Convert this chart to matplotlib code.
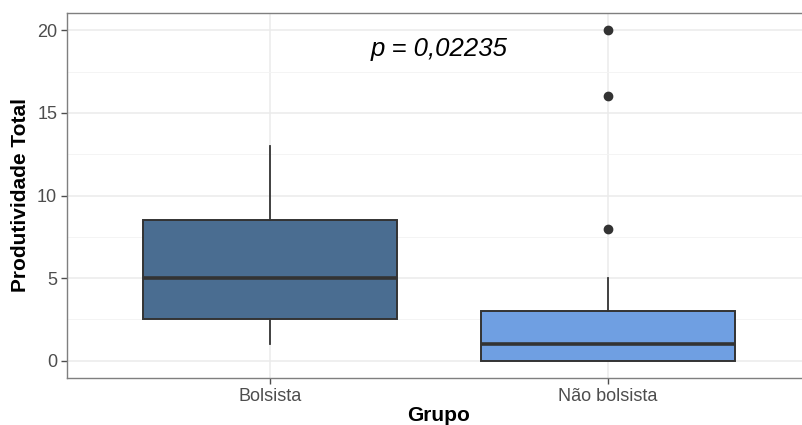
import numpy as np
import matplotlib.pyplot as plt

plt.rcParams['font.family'] = ['Liberation Sans', 'DejaVu Sans']

grupos = ['Bolsista', 'Não bolsista']
cores = ['#4A6D91', '#6F9FE2']
# five-number summaries
whis_lo = [1, 0]
q1 = [2.5, 0]
mediana = [5, 1]
q3 = [8.5, 3]
whis_hi = [13, 5]
outliers = [[], [8, 16, 20]]
p_texto = 'p = 0,02235'

fig = plt.figure(figsize=(8.02, 4.25), dpi=100)
ax = fig.add_axes([0.0835, 0.1106, 0.9277, 0.8588])

stats = []
for i in range(len(grupos)):
    stats.append(dict(label=grupos[i], whislo=whis_lo[i], q1=q1[i], med=mediana[i],
                      q3=q3[i], whishi=whis_hi[i], fliers=outliers[i]))

bp = ax.bxp(stats, positions=[1, 2], widths=0.75, patch_artist=True, showcaps=False,
            boxprops=dict(edgecolor='#333333', linewidth=1.4),
            medianprops=dict(color='#333333', linewidth=2.6, solid_capstyle='butt'),
            whiskerprops=dict(color='#333333', linewidth=1.3),
            flierprops=dict(marker='o', markerfacecolor='#333333', markeredgecolor='#333333',
                            markersize=6))
for patch, c in zip(bp['boxes'], cores):
    patch.set_facecolor(c)
for b in bp['boxes'] + bp['medians'] + bp['whiskers'] + bp['fliers']:
    b.set_zorder(3)

ax.text(1.5, 18.9, p_texto, fontsize=18.5, style='italic', ha='center', va='center')

ax.set_xlim(0.4, 2.6)
ax.set_ylim(-1.05, 21.05)
ax.set_yticks([0, 5, 10, 15, 20])
ax.set_yticks([2.5, 7.5, 12.5, 17.5], minor=True)
ax.set_xticks([1, 2])
ax.set_xticklabels(grupos)

ax.grid(True, which='major', color='#EBEBEB', linewidth=1.1, zorder=0)
ax.grid(True, which='minor', axis='y', color='#F3F3F3', linewidth=0.6, zorder=0)
ax.set_axisbelow(True)
for s in ax.spines.values():
    s.set_color('#7F7F7F')
    s.set_linewidth(1.0)
ax.spines['right'].set_visible(False)

ax.tick_params(axis='both', which='major', colors='#4D4D4D', labelsize=13, length=4,
               width=1.0, direction='out')
ax.tick_params(axis='x', pad=3)
ax.tick_params(axis='y', pad=3)
ax.tick_params(which='minor', length=0)
for lab in ax.get_xticklabels() + ax.get_yticklabels():
    lab.set_color('#4D4D4D')

ax.set_xlabel('Grupo', fontsize=15, fontweight='bold', labelpad=1)
ax.set_ylabel('Produtividade Total', fontsize=15, fontweight='bold', labelpad=5)

plt.savefig('out.png', dpi=100)
